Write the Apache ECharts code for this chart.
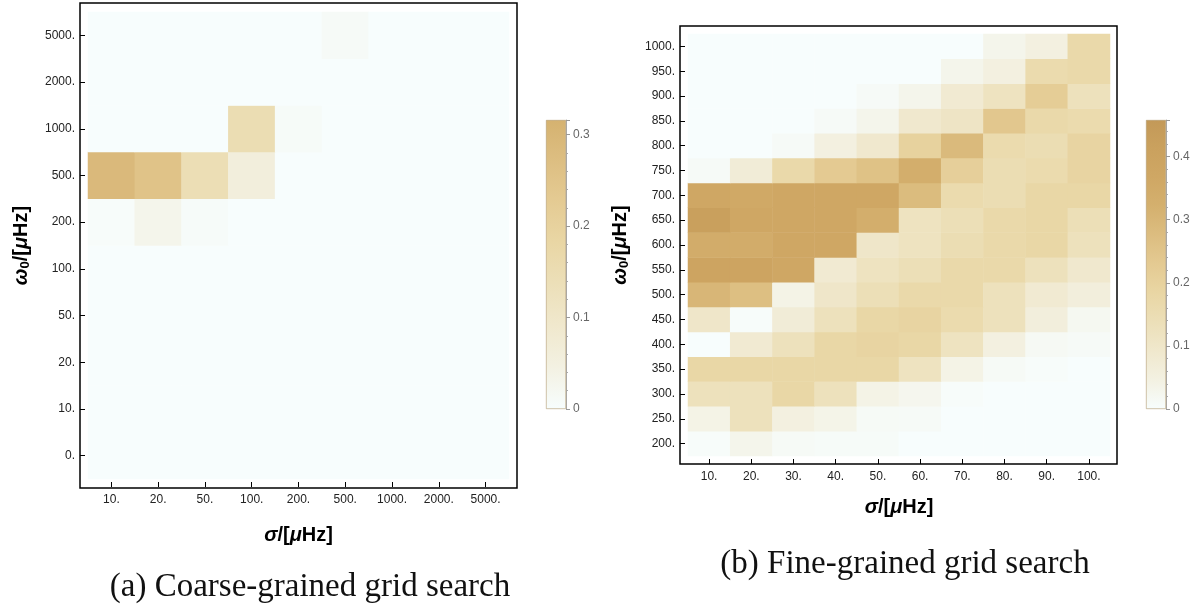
<!DOCTYPE html>
<html>
<head>
<meta charset="utf-8">
<script src="https://cdn.jsdelivr.net/npm/echarts@6/dist/echarts.min.js"></script>
<style>
  html, body { margin: 0; padding: 0; background: #fff; }
  #main { width: 1203px; height: 610px; }
</style>
</head>
<body>
<div id="main"></div>
<script>
// axis categories
var coarseSigma = ['10.', '20.', '50.', '100.', '200.', '500.', '1000.', '2000.', '5000.']
var coarseOmega = ['0.', '10.', '20.', '50.', '100.', '200.', '500.', '1000.', '2000.', '5000.']
var fineSigma = ['10.', '20.', '30.', '40.', '50.', '60.', '70.', '80.', '90.', '100.']
var fineOmega = ['200.', '250.', '300.', '350.', '400.', '450.', '500.', '550.', '600.',
  '650.', '700.', '750.', '800.', '850.', '900.', '950.', '1000.']

// coarse grid, one row per omega0 (bottom to top), one column per sigma
var coarseValues = [
  [0, 0, 0, 0, 0, 0, 0, 0, 0],
  [0, 0, 0, 0, 0, 0, 0, 0, 0],
  [0, 0, 0, 0, 0, 0, 0, 0, 0],
  [0, 0, 0, 0, 0, 0, 0, 0, 0],
  [0, 0, 0, 0, 0, 0, 0, 0, 0],
  [0.005, 0.03, 0.006, 0, 0, 0, 0, 0, 0],
  [0.29, 0.255, 0.145, 0.06, 0, 0, 0, 0, 0],
  [0, 0, 0, 0.15, 0.008, 0, 0, 0, 0],
  [0, 0, 0, 0, 0, 0, 0, 0, 0],
  [0, 0, 0, 0, 0, 0.01, 0, 0, 0]
]

// fine grid, one row per omega0 (200 .. 1000), one column per sigma
var fineValues = [
  [0.005, 0.03, 0.012, 0.008, 0.008, 0, 0, 0, 0, 0],
  [0.04, 0.13, 0.05, 0.035, 0.012, 0.01, 0, 0, 0, 0],
  [0.13, 0.13, 0.18, 0.13, 0.04, 0.025, 0.005, 0, 0, 0],
  [0.18, 0.18, 0.18, 0.18, 0.18, 0.12, 0.04, 0.012, 0.005, 0],
  [0, 0.08, 0.13, 0.18, 0.19, 0.18, 0.12, 0.05, 0.015, 0.01],
  [0.1, 0.005, 0.07, 0.13, 0.18, 0.19, 0.16, 0.13, 0.06, 0.02],
  [0.3, 0.27, 0.04, 0.1, 0.14, 0.17, 0.17, 0.13, 0.08, 0.06],
  [0.39, 0.39, 0.37, 0.08, 0.12, 0.14, 0.17, 0.17, 0.13, 0.09],
  [0.34, 0.34, 0.37, 0.37, 0.1, 0.12, 0.15, 0.17, 0.18, 0.13],
  [0.42, 0.37, 0.37, 0.37, 0.33, 0.12, 0.14, 0.17, 0.18, 0.14],
  [0.37, 0.36, 0.37, 0.37, 0.37, 0.28, 0.16, 0.15, 0.18, 0.18],
  [0.01, 0.07, 0.17, 0.23, 0.26, 0.33, 0.21, 0.15, 0.16, 0.19],
  [0, 0, 0.01, 0.05, 0.09, 0.2, 0.285, 0.16, 0.15, 0.19],
  [0, 0, 0, 0.01, 0.03, 0.09, 0.11, 0.24, 0.17, 0.16],
  [0, 0, 0, 0, 0.01, 0.03, 0.08, 0.12, 0.22, 0.13],
  [0, 0, 0, 0, 0, 0, 0.03, 0.05, 0.16, 0.17],
  [0, 0, 0, 0, 0, 0, 0, 0.03, 0.05, 0.17]
]

// colour bar ranges
var coarseScaleMax = 0.316
var fineScaleMax = 0.458
var paletteMax = 0.46
var palette = ['#f7fdfd', '#f3f1e2', '#f0e8cd', '#ecdfb8', '#e9d6a4', '#e4ca92',
  '#dcbd80', '#d4b06e', '#cfa764', '#caa15e', '#c39958']

function toCells (rows) {
  var out = []
  rows.forEach(function (row, y) {
    row.forEach(function (v, x) { out.push([x, y, v]) })
  })
  return out
}

// vertical gradient for a colour bar that ends at max
function barGradient (max) {
  var stops = []
  var step = paletteMax / (palette.length - 1)
  palette.forEach(function (c, i) {
    var v = i * step
    if (v <= max) stops.push({ offset: 1 - v / max, color: c })
  })
  stops.push({ offset: 0, color: echarts.color.lerp(max / paletteMax, palette) })
  stops.sort(function (a, b) { return a.offset - b.offset })
  return new echarts.graphic.LinearGradient(0, 0, 0, 1, stops)
}

var sans = 'Liberation Sans'
var nameRich = {
  i: { fontFamily: sans, fontSize: 20, fontWeight: 'bold', fontStyle: 'italic', color: '#000', lineHeight: 22 },
  b: { fontFamily: sans, fontSize: 20, fontWeight: 'bold', color: '#000', lineHeight: 22 },
  s: { fontFamily: sans, fontSize: 13, fontWeight: 'bold', color: '#000', lineHeight: 22, verticalAlign: 'bottom' }
}
var xName = '{i|σ}{b|/[}{i|μ}{b|Hz]}'
var yName = '{i|ω}{s|0}{b|/[}{i|μ}{b|Hz]}'

function frameAxis (idx) {
  return { gridIndex: idx, type: 'value', show: false, min: 0, max: 1 }
}

function catX (idx, data, gap) {
  return {
    gridIndex: idx, type: 'category', data: data, offset: 8,
    axisLine: { show: false },
    axisTick: { show: true, inside: true, alignWithLabel: true, length: 5, lineStyle: { color: '#000', width: 1 } },
    axisLabel: { margin: 7, fontFamily: sans, fontSize: 12, color: '#222' },
    name: xName, nameLocation: 'middle', nameGap: gap,
    nameTextStyle: { rich: nameRich }
  }
}

function catY (idx, data, gap) {
  return {
    gridIndex: idx, type: 'category', data: data, offset: 8,
    axisLine: { show: false },
    axisTick: { show: true, inside: true, alignWithLabel: true, length: 5, lineStyle: { color: '#000', width: 1 } },
    axisLabel: { margin: 5, fontFamily: sans, fontSize: 12, color: '#222' },
    name: yName, nameLocation: 'middle', nameGap: gap,
    nameTextStyle: { rich: nameRich }
  }
}

function barX (idx) {
  return { gridIndex: idx, type: 'category', data: [''], show: false }
}

function barY (idx, max) {
  return {
    gridIndex: idx, type: 'value', position: 'right', min: 0, max: max, interval: 0.1,
    axisLine: { show: true, lineStyle: { color: '#aaa', width: 1 } },
    axisTick: { show: true, length: 4, lineStyle: { color: '#999' } },
    minorTick: { show: true, splitNumber: 5, length: 2, lineStyle: { color: '#aaa' } },
    splitLine: { show: false },
    axisLabel: { margin: 7, showMaxLabel: false, fontFamily: sans, fontSize: 12, color: '#666' }
  }
}

var frameStyle = { show: true, borderColor: '#000', borderWidth: 1.5, backgroundColor: 'transparent' }
var captionFont = '33px "Liberation Serif"'

var option = {
  animation: false,
  backgroundColor: '#fff',
  grid: [
    Object.assign({ left: 80, top: 3, width: 437, height: 485 }, frameStyle),
    { left: 88, top: 12, width: 421, height: 467 },
    Object.assign({ left: 680, top: 26, width: 437, height: 438 }, frameStyle),
    { left: 688, top: 34, width: 422, height: 422 },
    { left: 546, top: 120, width: 20, height: 289 },
    { left: 1146, top: 120, width: 20, height: 289 }
  ],
  xAxis: [
    frameAxis(0),
    catX(1, coarseSigma, 37),
    frameAxis(2),
    catX(3, fineSigma, 32),
    barX(4),
    barX(5)
  ],
  yAxis: [
    frameAxis(0),
    catY(1, coarseOmega, 48),
    frameAxis(2),
    catY(3, fineOmega, 49),
    barY(4, coarseScaleMax),
    barY(5, fineScaleMax)
  ],
  visualMap: [
    { type: 'continuous', show: false, seriesIndex: 0, min: 0, max: paletteMax, inRange: { color: palette } },
    { type: 'continuous', show: false, seriesIndex: 1, min: 0, max: paletteMax, inRange: { color: palette } }
  ],
  series: [
    { type: 'heatmap', xAxisIndex: 1, yAxisIndex: 1, data: toCells(coarseValues) },
    { type: 'heatmap', xAxisIndex: 3, yAxisIndex: 3, data: toCells(fineValues) },
    {
      type: 'bar', xAxisIndex: 4, yAxisIndex: 4, data: [coarseScaleMax], barWidth: '100%',
      itemStyle: { color: barGradient(coarseScaleMax), borderColor: '#b09a70', borderWidth: 0.6 }
    },
    {
      type: 'bar', xAxisIndex: 5, yAxisIndex: 5, data: [fineScaleMax], barWidth: '100%',
      itemStyle: { color: barGradient(fineScaleMax), borderColor: '#b09a70', borderWidth: 0.6 }
    }
  ],
  graphic: [
    {
      type: 'text', x: 310, y: 587,
      style: { text: '(a) Coarse-grained grid search', font: captionFont, fill: '#111', textAlign: 'center', textVerticalAlign: 'middle' }
    },
    {
      type: 'text', x: 905, y: 564,
      style: { text: '(b) Fine-grained grid search', font: captionFont, fill: '#111', textAlign: 'center', textVerticalAlign: 'middle' }
    }
  ]
}

var chart = echarts.init(document.getElementById('main'))
chart.setOption(option)
</script>
</body>
</html>
